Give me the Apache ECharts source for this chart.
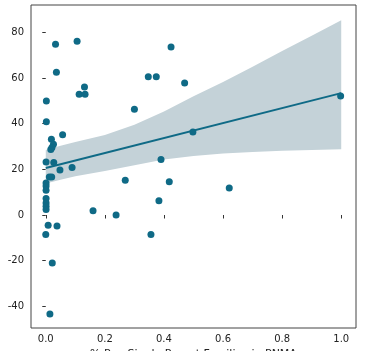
<!DOCTYPE html>
<html>
<head>
<meta charset="utf-8">
<script src="https://cdn.jsdelivr.net/npm/echarts@6/dist/echarts.min.js"></script>
<style>
  html, body { margin: 0; padding: 0; background: #fff; }
  #chart { width: 372px; height: 351px; }
</style>
</head>
<body>
<div id="chart"></div>
<script>
// scatter values
const pctSingleParent = [
  0.033, 0.106, 0.036, 0.131, 0.113, 0.133, 0.002, 0.002, 0.019, 0.057,
  0.026, 0.021, 0.017, 0.001, 0.027, 0.048, 0.089, 0.012, 0.020, 0.001,
  0.001, 0.001, 0.001, 0.001, 0.001, 0.001, 0.160, 0.008, 0.038, 0.000,
  0.022, 0.014, 0.238, 0.424, 0.347, 0.374, 0.470, 0.300, 0.498, 0.998,
  0.390, 0.269, 0.418, 0.621, 0.383, 0.356
]
const changeValue = [
  74.8, 76.1, 62.5, 56.1, 52.9, 52.9, 49.9, 40.9, 33.2, 35.2,
  31.0, 29.6, 28.7, 23.2, 23.0, 19.7, 20.8, 16.6, 16.6, 14.0,
  12.7, 10.8, 7.2, 5.3, 3.8, 2.4, 1.9, -4.5, -4.8, -8.5,
  -21.0, -43.4, 0.0, 73.6, 60.6, 60.6, 57.8, 46.3, 36.4, 52.1,
  24.3, 15.2, 14.6, 11.8, 6.3, -8.5
]

// fitted line and confidence band
const fitX = [0, 1]
const fitY = [20.6, 53.4]
const bandX = [0, 0.05, 0.1, 0.2, 0.3, 0.4, 0.5, 0.6, 0.7, 0.8, 0.9, 1.0]
const bandLow = [13.8, 15.5, 17.0, 19.3, 21.8, 24.3, 25.8, 26.9, 27.6, 28.1, 28.5, 28.8]
const bandHigh = [28.5, 30.3, 32.0, 35.0, 39.5, 45.3, 52.0, 58.3, 65.0, 71.8, 78.5, 85.3]

const xTicks = [0, 0.2, 0.4, 0.6, 0.8, 1.0]
const yTicks = [-40, -20, 0, 20, 40, 60, 80]
const xTitle = '% Pop Single Parent Families in PNMA'

const dotColor = '#0f6a86'
const bandColor = '#c4d2d8'
const tickFont = { fontFamily: 'DejaVu Sans', fontSize: 10, color: '#222' }

const points = pctSingleParent.map((x, i) => [x, changeValue[i]])
const fitLine = fitX.map((x, i) => [x, fitY[i]])
const bandData = bandX.map((x, i) => [x, bandLow[i], bandHigh[i]])

const chart = echarts.init(document.getElementById('chart'))
chart.setOption({
  animation: false,
  backgroundColor: '#fff',
  grid: {
    left: 31, right: 16, top: 5, bottom: 23,
    outerBoundsMode: 'none',
    show: true, borderColor: '#444', borderWidth: 1, backgroundColor: 'transparent'
  },
  xAxis: {
    type: 'value',
    min: -0.05, max: 1.05,
    name: xTitle,
    nameLocation: 'middle',
    nameGap: 19,
    nameTextStyle: { fontFamily: 'DejaVu Sans', fontSize: 11, color: '#222' },
    axisLine: { show: false },
    splitLine: { show: false },
    axisTick: { show: true, length: 3.5, customValues: xTicks, lineStyle: { color: '#333' } },
    axisLabel: Object.assign({ margin: 6, customValues: xTicks, formatter: v => v.toFixed(1) }, tickFont)
  },
  yAxis: {
    type: 'value',
    min: -49.5, max: 92,
    axisLine: { show: false },
    splitLine: { show: false },
    axisTick: { show: true, length: 3.5, customValues: yTicks, lineStyle: { color: '#333' } },
    axisLabel: Object.assign({ margin: 7, customValues: yTicks }, tickFont)
  },
  series: [
    {
      type: 'custom',
      z: 1,
      data: bandData,
      renderItem: function (params, api) {
        if (params.dataIndex !== 0) return
        const top = bandData.map(d => api.coord([d[0], d[2]]))
        const bottom = bandData.slice().reverse().map(d => api.coord([d[0], d[1]]))
        return {
          type: 'polygon',
          shape: { points: top.concat(bottom) },
          style: { fill: bandColor }
        }
      }
    },
    {
      type: 'line',
      z: 2,
      data: fitLine,
      showSymbol: false,
      lineStyle: { color: dotColor, width: 2 }
    },
    {
      type: 'scatter',
      z: 3,
      data: points,
      symbolSize: 7,
      itemStyle: { color: dotColor, opacity: 1 }
    }
  ]
})
</script>
</body>
</html>
